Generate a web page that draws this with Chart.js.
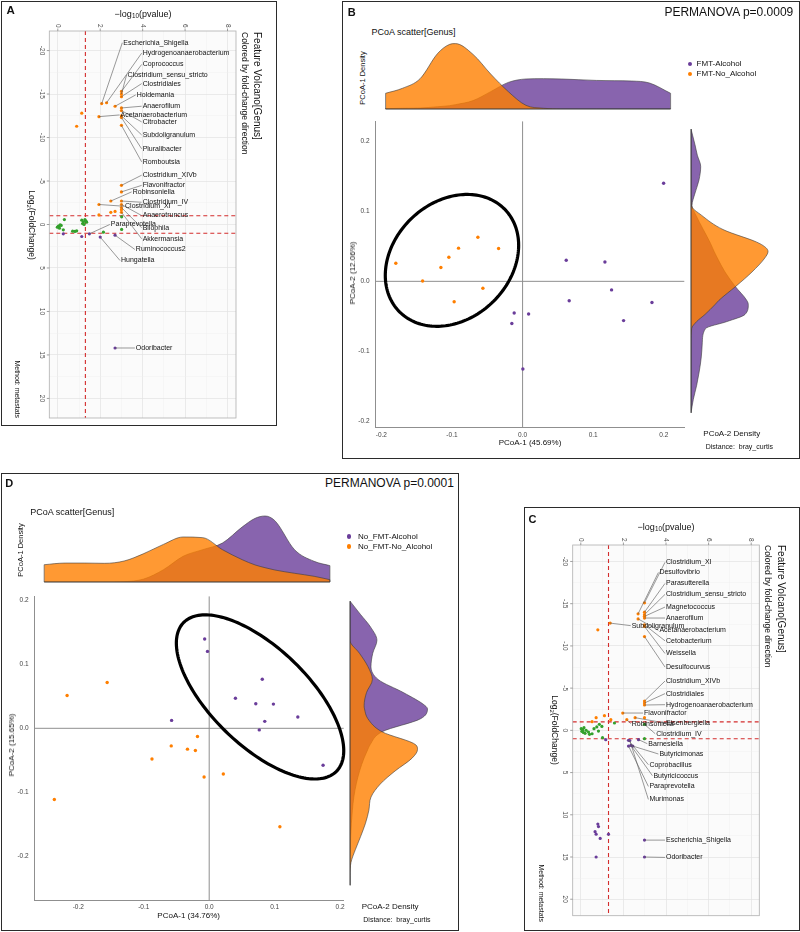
<!DOCTYPE html>
<html>
<head>
<meta charset="utf-8">
<title>Genus-level PCoA and volcano plots</title>
<script src="https://cdn.jsdelivr.net/npm/chart.js@4.4.1/dist/chart.umd.min.js"></script>
<style>
  body { margin: 0; background: #fff; }
  #page { position: relative; width: 800px; height: 932px; overflow: hidden; color: #111;
          font-family: 'Liberation Sans', Arial, Helvetica, sans-serif; }
  .panel { position: absolute; box-sizing: border-box; border: 1.3px solid #2b2b2b; }
  .t { position: absolute; white-space: nowrap; line-height: 1; transform-origin: 0 0; }
  .t sub { font-size: 70%; vertical-align: -0.3em; line-height: 0; }
  .dot { position: absolute; width: 4.5px; height: 4.5px; border-radius: 50%; margin: -2.25px 0 0 -2.25px; }
  canvas { position: absolute; }
</style>
</head>
<body>
<div id="page"></div>
<script>
// ---------- panel A: FMT-Alcohol vs FMT-No_Alcohol volcano ----------
// [ -log10(pvalue), log2(FoldChange), genus ]
const aUp = [
  [2.07, -13.9, 'Escherichia_Shigella'], [2.30, -14.0, 'Hydrogenoanaerobacterium'],
  [3.00, -15.3, 'Coprococcus'], [3.00, -15.0, 'Clostridium_sensu_stricto'],
  [3.00, -14.7, 'Clostridiales'], [2.70, -13.6, 'Holdemania'],
  [3.00, -13.4, 'Anaerofilum'], [1.94, -12.4, 'Acetanaerobacterium'],
  [3.00, -13.1, 'Citrobacter'], [3.00, -12.5, 'Subdoligranulum'],
  [3.00, -12.3, 'Pluralibacter'], [3.00, -11.4, 'Romboutsia'],
  [1.13, -12.8], [0.89, -11.3],
  [3.00, -4.5, 'Clostridium_XIVb'], [3.00, -3.75, 'Flavonifractor'],
  [2.50, -2.7, 'Robinsoniella'], [1.94, -2.3, 'Clostridium_XI'],
  [3.00, -2.7, 'Clostridium_IV'], [3.00, -2.3, 'Anaerotruncus'],
  [3.00, -1.95, 'Bilophila'], [3.00, -1.4, 'Akkermansia'],
  [2.50, -1.4], [2.70, -1.5], [1.94, -1.1], [3.00, -1.7]
];
const aFlat = [
  [0.03, 0.19], [0.08, 0.42], [0.16, 0.11], [-0.02, 0.31], [0.11, 0.04], [0.31, -0.57],
  [0.26, 0.61], [0.70, 0.77], [0.81, 0.80], [0.89, 0.73], [1.13, -0.5], [1.21, -0.31],
  [1.28, -0.57], [1.33, -0.38], [1.17, -0.11], [1.24, 0.0], [1.36, -0.27], [2.15, 0.88],
  [3.01, 0.57], [3.01, -0.88]
];
const aDown = [
  [0.26, 1.07], [1.13, 1.38], [1.49, 1.07, 'Paraprevotella'], [2.00, 1.45, 'Hungatella'],
  [2.70, 1.23, 'Ruminococcus2'], [2.70, 14.2, 'Odoribacter']
];
// where the repelled labels sit, in axis units
const aLabelAt = {
  Escherichia_Shigella: [3.09, -20.9], Hydrogenoanaerobacterium: [4.0, -19.7], Coprococcus: [4.0, -18.4],
  Clostridium_sensu_stricto: [3.29, -17.2], Clostridiales: [4.0, -16.2], Holdemania: [3.72, -14.9],
  Anaerofilum: [4.0, -13.6], Acetanaerobacterium: [2.96, -12.6], Citrobacter: [4.0, -11.8],
  Subdoligranulum: [4.0, -10.3], Pluralibacter: [4.0, -8.7], Romboutsia: [4.0, -7.2],
  Clostridium_XIVb: [4.0, -5.67], Flavonifractor: [4.0, -4.5], Robinsoniella: [3.53, -3.75],
  Clostridium_IV: [4.0, -2.56], Clostridium_XI: [3.17, -2.1], Anaerotruncus: [4.0, -1.03],
  Paraprevotella: [2.5, 0.0], Bilophila: [4.0, 0.38], Akkermansia: [4.0, 1.64],
  Ruminococcus2: [3.68, 2.87], Hungatella: [2.98, 4.14], Odoribacter: [3.68, 14.2]
};

// ---------- panel C: No_FMT-Alcohol vs No_FMT-No_Alcohol volcano ----------
const cUp = [
  [2.99, -15.1, 'Clostridium_XI'], [2.69, -13.8, 'Desulfovibrio'], [2.99, -14.0, 'Parasutterella'],
  [2.99, -13.7, 'Clostridium_sensu_stricto'], [2.99, -13.5, 'Magnetococcus'], [2.99, -13.3, 'Anaerofilum'],
  [1.38, -12.7, 'Subdoligranulum'], [2.69, -13.2, 'Acetanaerobacterium'], [2.99, -12.5, 'Cetobacterium'],
  [2.99, -12.3, 'Weissella'], [2.99, -11.1, 'Desulfocurvus'], [0.80, -11.9],
  [2.99, -3.47, 'Clostridium_XIVb'], [2.99, -3.24, 'Clostridiales'], [2.99, -3.0, 'Hydrogenoanaerobacterium'],
  [1.97, -2.05, 'Flavonifractor'], [2.16, -1.27, 'Robinsoniella'], [2.55, -1.5, 'Eisenbergiella'],
  [2.99, -1.5], [1.11, -1.74], [0.72, -1.5], [0.53, -1.03], [1.41, -1.27]
];
const cFlat = [
  [0.09, -0.08], [0.15, -0.32], [0.25, 0.0], [0.05, 0.12], [0.36, 0.2], [0.41, 0.47], [0.53, 0.4],
  [0.62, -0.2], [0.75, -0.4], [0.83, 0.08], [0.87, -0.71], [0.99, -0.47], [1.02, 0.87], [0.12, 0.25],
  [0.2, 0.35], [0.02, -0.2], [1.58, -0.87], [2.99, -0.71, 'Clostridium_IV'], [2.99, 0.98]
];
const cDown = [
  [1.17, 1.1], [2.24, 1.18, 'Coprobacillus'], [2.24, 1.86, 'Paraprevotella'], [2.35, 1.78, 'Butyricicoccus'],
  [2.44, 1.86, 'Butyricimonas'], [2.71, 1.1, 'Barnesiella'], [2.30, 1.2, 'Murimonas'],
  [0.80, 11.1], [0.83, 11.4], [0.67, 12.0], [0.72, 12.3], [0.91, 12.8], [1.30, 12.3], [0.72, 15.0],
  [2.99, 13.0, 'Escherichia_Shigella'], [2.99, 15.0, 'Odoribacter']
];
const cLabelAt = {
  Clostridium_XI: [4.0, -19.9], Desulfovibrio: [3.69, -18.7], Parasutterella: [4.0, -17.4],
  Clostridium_sensu_stricto: [4.0, -16.1], Magnetococcus: [4.0, -14.6], Anaerofilum: [4.0, -13.3],
  Subdoligranulum: [2.39, -12.4], Acetanaerobacterium: [3.69, -11.85], Cetobacterium: [4.0, -10.6],
  Weissella: [4.0, -9.1], Desulfocurvus: [4.0, -7.5], Clostridium_XIVb: [4.0, -5.84],
  Clostridiales: [4.0, -4.35], Hydrogenoanaerobacterium: [4.0, -3.04], Flavonifractor: [2.97, -2.05],
  Robinsoniella: [2.39, -0.79], Eisenbergiella: [4.0, -0.87], Clostridium_IV: [3.54, 0.4],
  Barnesiella: [3.17, 1.58], Butyricimonas: [3.69, 2.8], Coprobacillus: [3.22, 4.07],
  Butyricicoccus: [3.41, 5.37], Paraprevotella: [3.22, 6.64], Murimonas: [3.22, 8.18],
  Escherichia_Shigella: [4.0, 13.0], Odoribacter: [4.0, 15.05]
};

const pTicks = [0, 2, 4, 6, 8];
const pMinor = [1, 3, 5, 7];
const fcTicks = [-20, -15, -10, -5, 0, 5, 10, 15, 20];
const fcMinor = [-17.5, -12.5, -7.5, -2.5, 2.5, 7.5, 12.5, 17.5];
const pCut = -Math.log10(0.05);
const fcCut = [-1, 1];

// ---------- panel B: PCoA, FMT groups ----------
// [PCoA-1, PCoA-2]
const bAlcohol = [
  [0.0618, 0.0301], [0.1166, 0.0277], [0.126, -0.0123], [0.066, -0.0279], [0.1832, -0.0302],
  [0.143, -0.0562], [0.1997, 0.1405], [-0.0119, -0.0453], [0.0085, -0.0467], [-0.0152, -0.0604],
  [0.0004, -0.1255]
];
const bNoAlcohol = [
  [-0.1795, 0.0259], [-0.1416, 0.0004], [-0.1157, 0.0198], [-0.1044, 0.0344], [-0.0907, 0.0475],
  [-0.0633, 0.0631], [-0.034, 0.0471], [-0.0562, -0.0099], [-0.0969, -0.0293]
];
const bTopAt = [-0.194, -0.17, -0.145, -0.12, -0.103, -0.095, -0.07, -0.045, -0.02, 0.005, 0.03,
                0.055, 0.08, 0.105, 0.13, 0.155, 0.18, 0.21];
const bTopNoAlc = [2.38, 3.14, 4.6, 8.44, 9.8, 9.91, 8.27, 5.3, 2.63, 0.55, 0.11, 0, 0, 0, 0, 0, 0, 0];
const bTopAlc = [0.05, 0.11, 0.15, 0.35, 0.51, 0.66, 1.27, 2.63, 4.03, 4.55, 4.6, 4.55, 4.44, 4.33, 4.29, 4.24, 3.94, 2.38];
const bSideAt = [-0.189, -0.17, -0.15, -0.13, -0.11, -0.09, -0.07, -0.06, -0.05, -0.036, -0.03, -0.01,
                 0.01, 0.03, 0.039, 0.05, 0.07, 0.09, 0.104, 0.12, 0.14, 0.159, 0.175, 0.19, 0.212];
const bSideAlc = [0, 0.35, 0.86, 1.26, 1.56, 1.71, 2.2, 5.45, 8.18, 8.68, 8.44, 6.67,
                  5.15, 3.98, 3.5, 2.98, 1.86, 0.76, 0.15, 0.56, 1.21, 1.47, 0.96, 0.6, 0];
const bSideNoAlc = [0, 0, 0, 0, 0, 0, 0.1, 0.86, 2.12, 3.64, 4.24, 6.82,
                    9.24, 11.2, 11.67, 10.45, 4.85, 1.62, 0.05, 0, 0, 0, 0, 0, 0];
const bEllipse = { cx: -0.100, cy: 0.030, a: 0.1046, b: 0.083, angle: 45 };

// ---------- panel D: PCoA, No_FMT groups ----------
const dAlcohol = [
  [-0.0069, 0.1392], [-0.0026, 0.1198], [0.0811, 0.0765], [0.0401, 0.0469], [0.0712, 0.0383],
  [0.0981, 0.0377], [0.1354, 0.0175], [0.0849, 0.0108], [0.0765, -0.0025], [-0.0574, 0.0123],
  [0.174, -0.0575]
];
const dNoAlcohol = [
  [-0.2171, 0.051], [-0.1559, 0.0714], [-0.0179, -0.0127], [-0.058, -0.0274], [-0.0332, -0.0325],
  [-0.0211, -0.0346], [-0.0874, -0.0478], [0.0216, -0.0713], [-0.0078, -0.0759], [-0.2366, -0.111],
  [0.108, -0.1533]
];
const dTopAt = [-0.252, -0.22, -0.19, -0.16, -0.13, -0.10, -0.07, -0.04, -0.01, 0.02, 0.05, 0.07,
                0.085, 0.10, 0.13, 0.16, 0.184];
const dTopNoAlc = [2.62, 2.87, 2.87, 2.83, 3.18, 4.3, 5.7, 6.82, 6.72, 4.9, 3.39, 2.58, 2.17, 1.82, 1.32, 0.86, 0.35];
const dTopAlc = [0, 0, 0, 0, 0.05, 0.45, 1.86, 3.89, 4.9, 5.9, 8.32, 9.65, 10.0, 9.29, 4.9, 3.13, 2.48];
const dSideAt = [-0.245, -0.23, -0.21, -0.19, -0.17, -0.15, -0.13, -0.11, -0.09, -0.07, -0.05, -0.037,
                 -0.03, -0.01, 0.01, 0.025, 0.03, 0.05, 0.07, 0.09, 0.11, 0.13, 0.15, 0.17, 0.19];
const dSideAlc = [0, 0, 0, 0.05, 0.11, 0.21, 0.36, 0.58, 0.94, 1.45, 2.14, 2.7,
                  3.03, 4.85, 10.7, 11.74, 11.38, 8.09, 4.27, 3.18, 3.44, 4.08, 3.14, 1.56, 0];
const dSideNoAlc = [0, 0, 0.15, 0.83, 1.62, 2.35, 2.86, 3.18, 4.59, 6.83, 9.44, 10.23,
                    9.97, 4.85, 2.71, 2.2, 2.14, 2.5, 3.39, 2.71, 1.45, 0, 0, 0, 0];
const dEllipse = { cx: 0.0777, cy: 0.0489, a: 0.1645, b: 0.0751, angle: -45 };

const pcoaTicks = [-0.2, -0.1, 0, 0.1, 0.2];

// ---------- look ----------
const FONT = "'Liberation Sans', Arial, Helvetica, sans-serif";
const ORANGE = '#FF7F00', PURPLE = '#6A3D9A', GREEN = '#33A02C';
const ORANGE_FILL = 'rgba(255,127,0,0.8)', PURPLE_FILL = 'rgba(106,61,154,0.8)';
const EDGE = '#3a3a3a';
const DENS_PX = 6.6;

Chart.defaults.font.family = FONT;
Chart.defaults.animation = false;
Chart.defaults.responsive = false;
Chart.defaults.devicePixelRatio = 1;
Chart.defaults.plugins.legend.display = false;
Chart.defaults.plugins.tooltip.enabled = false;

const page = document.getElementById('page');

function canvasAt(r) {
  const c = document.createElement('canvas');
  c.width = r.w; c.height = r.h;
  c.style.left = r.x + 'px'; c.style.top = r.y + 'px';
  page.appendChild(c);
  return c;
}

function box(x, y, w, h) {
  const d = document.createElement('div');
  d.className = 'panel';
  Object.assign(d.style, { left: x + 'px', top: y + 'px', width: w + 'px', height: h + 'px' });
  page.appendChild(d);
}

function label(x, y, html, o = {}) {
  const d = document.createElement('div');
  d.className = 't';
  d.innerHTML = html;
  d.style.left = x + 'px';
  d.style.top = y + 'px';
  d.style.fontSize = (o.size || 9) + 'px';
  if (o.bold) d.style.fontWeight = 'bold';
  const ax = { left: '0', center: '-50%', right: '-100%' }[o.align || 'left'];
  d.style.transform = `rotate(${o.rot || 0}deg) translate(${ax}, -50%)`;
  page.appendChild(d);
}

function legend(x, tx, ys, names) {
  [PURPLE, ORANGE].forEach((col, i) => {
    const d = document.createElement('div');
    d.className = 'dot';
    Object.assign(d.style, { left: x + 'px', top: ys[i] + 'px', background: col });
    page.appendChild(d);
    label(tx, ys[i], names[i], { size: 8 });
  });
}

function seg(ctx, x1, y1, x2, y2) {
  ctx.beginPath(); ctx.moveTo(x1, y1); ctx.lineTo(x2, y2); ctx.stroke();
}

const pts = arr => arr.map(p => ({ x: p[0], y: p[1], name: p[2] }));
const pad = (b, p) => ({ left: p.x - b.x, top: p.y - b.y,
                         right: b.x + b.w - p.x - p.w, bottom: b.y + b.h - p.y - p.h });
const setTicks = vals => s => { s.ticks = vals.map(v => ({ value: v })); };

// ---------- volcano ----------
function volcanoDeco(spots) {
  return {
    id: 'volcanoDeco',
    beforeDraw(chart) {
      const { ctx, chartArea: a } = chart;
      ctx.save(); ctx.fillStyle = '#fbfbfb';
      ctx.fillRect(a.left, a.top, a.width, a.height); ctx.restore();
    },
    beforeDatasetsDraw(chart) {
      const { ctx, chartArea: a, scales: { x, y } } = chart;
      ctx.save();
      ctx.strokeStyle = '#d42d2d'; ctx.lineWidth = 1.1; ctx.setLineDash([4, 3]);
      const vx = x.getPixelForValue(pCut);
      seg(ctx, vx, a.top, vx, a.bottom);
      fcCut.forEach(v => { const py = y.getPixelForValue(v); seg(ctx, a.left, py, a.right, py); });
      ctx.restore();
    },
    afterDatasetsDraw(chart) {
      const { ctx, scales: { x, y } } = chart;
      const named = [];
      chart.data.datasets.forEach(ds => ds.data.forEach(p => { if (p.name) named.push(p); }));
      ctx.save();
      ctx.strokeStyle = '#555'; ctx.lineWidth = 0.6;
      named.forEach(p => {
        const s = spots[p.name];
        seg(ctx, x.getPixelForValue(p.x), y.getPixelForValue(p.y),
            x.getPixelForValue(s[0]) - 1, y.getPixelForValue(s[1]));
      });
      ctx.font = '7px ' + FONT; ctx.fillStyle = '#111'; ctx.textBaseline = 'middle';
      named.forEach(p => {
        const s = spots[p.name];
        ctx.fillText(p.name, x.getPixelForValue(s[0]), y.getPixelForValue(s[1]));
      });
      ctx.restore();
    },
    afterDraw(chart) {
      const { ctx, chartArea: a, scales: { x, y } } = chart;
      ctx.save();
      ctx.strokeStyle = '#b0b0b0'; ctx.lineWidth = 0.8;
      ctx.strokeRect(a.left, a.top, a.width, a.height);
      ctx.strokeStyle = '#888';
      ctx.fillStyle = '#4d4d4d'; ctx.font = '6.5px ' + FONT;
      pTicks.forEach(v => {
        const px = x.getPixelForValue(v);
        seg(ctx, px, a.top - 2.5, px, a.top);
        ctx.save(); ctx.translate(px, a.top - 3.5); ctx.rotate(Math.PI / 2);
        ctx.textAlign = 'right'; ctx.textBaseline = 'middle'; ctx.fillText(String(v), 0, 0);
        ctx.restore();
      });
      fcTicks.forEach(v => {
        const py = y.getPixelForValue(v);
        seg(ctx, a.left - 2.5, py, a.left, py);
        ctx.save(); ctx.translate(a.left - 7.5, py); ctx.rotate(Math.PI / 2);
        ctx.textAlign = 'center'; ctx.textBaseline = 'middle'; ctx.fillText(String(v), 0, 0);
        ctx.restore();
      });
      ctx.restore();
    }
  };
}

function volcano(b, p, xr, yr, up, flat, down, spots) {
  const grid = majors => ({
    drawTicks: false,
    color: c => (c.tick && majors.includes(c.tick.value)) ? '#e3e3e3' : '#f0f0f0',
    lineWidth: c => (c.tick && majors.includes(c.tick.value)) ? 0.7 : 0.45
  });
  new Chart(canvasAt(b), {
    type: 'scatter',
    data: { datasets: [
      { data: pts(up), backgroundColor: ORANGE },
      { data: pts(flat), backgroundColor: GREEN },
      { data: pts(down), backgroundColor: PURPLE }
    ] },
    options: {
      layout: { padding: pad(b, p) },
      elements: { point: { radius: 1.6, hoverRadius: 1.6, borderWidth: 0 } },
      scales: {
        x: { type: 'linear', position: 'top', min: xr[0], max: xr[1],
             afterBuildTicks: setTicks(pTicks.concat(pMinor)), afterFit: s => { s.height = 0; },
             ticks: { display: false }, grid: grid(pTicks), border: { display: false } },
        y: { type: 'linear', reverse: true, min: yr[0], max: yr[1],
             afterBuildTicks: setTicks(fcTicks.concat(fcMinor)), afterFit: s => { s.width = 0; },
             ticks: { display: false }, grid: grid(fcTicks), border: { display: false } }
      }
    },
    plugins: [volcanoDeco(spots)]
  });
}

// ---------- PCoA scatter ----------
function pcoaDeco(ell) {
  return {
    id: 'pcoaDeco',
    beforeDatasetsDraw(chart) {
      const { ctx, chartArea: a, scales: { x, y } } = chart;
      ctx.save(); ctx.strokeStyle = '#8f8f8f'; ctx.lineWidth = 1;
      const x0 = x.getPixelForValue(0), y0 = y.getPixelForValue(0);
      seg(ctx, x0, a.top, x0, a.bottom);
      seg(ctx, a.left, y0, a.right, y0);
      ctx.restore();
    },
    afterDatasetsDraw(chart) {
      const { ctx, scales: { x, y } } = chart;
      const th = ell.angle * Math.PI / 180;
      ctx.save(); ctx.strokeStyle = '#000'; ctx.lineWidth = 3.2; ctx.beginPath();
      for (let i = 0; i <= 180; i++) {
        const t = i / 180 * 2 * Math.PI;
        const dx = ell.a * Math.cos(t) * Math.cos(th) - ell.b * Math.sin(t) * Math.sin(th);
        const dy = ell.a * Math.cos(t) * Math.sin(th) + ell.b * Math.sin(t) * Math.cos(th);
        const px = x.getPixelForValue(ell.cx + dx), py = y.getPixelForValue(ell.cy + dy);
        if (i) ctx.lineTo(px, py); else ctx.moveTo(px, py);
      }
      ctx.closePath(); ctx.stroke(); ctx.restore();
    }
  };
}

function pcoa(b, p, range, alc, noAlc, ell) {
  const axis = isX => ({
    type: 'linear', min: range[0], max: range[1],
    afterBuildTicks: setTicks(pcoaTicks),
    afterFit: isX ? s => { s.height = b.y + b.h - p.y - p.h; } : s => { s.width = p.x - b.x; },
    grid: { display: false, drawTicks: false },
    border: { display: true, color: '#8f8f8f', width: 1 },
    ticks: { font: { size: 6.5 }, color: '#444', padding: isX ? 3.7 : 5.5,
             autoSkip: false, maxRotation: 0, callback: v => v.toFixed(1) }
  });
  const padding = pad(b, p);
  padding.left = 0; padding.bottom = 0;
  new Chart(canvasAt(b), {
    type: 'scatter',
    data: { datasets: [
      { data: pts(noAlc), backgroundColor: ORANGE },
      { data: pts(alc), backgroundColor: PURPLE }
    ] },
    options: {
      layout: { padding },
      elements: { point: { radius: 1.7, hoverRadius: 1.7, borderWidth: 0 } },
      scales: { x: axis(true), y: axis(false) }
    },
    plugins: [pcoaDeco(ell)]
  });
}

// ---------- marginal densities ----------
const densityEdges = {
  id: 'densityEdges',
  afterDatasetsDraw(chart) {
    const { ctx } = chart;
    const horiz = chart.options.indexAxis !== 'y';
    const base = (horiz ? chart.scales.y : chart.scales.x).getPixelForValue(0);
    ctx.save(); ctx.strokeStyle = EDGE; ctx.lineWidth = 0.6;
    chart.data.datasets.forEach((ds, i) => {
      const el = chart.getDatasetMeta(i).data;
      const a = el[0], z = el[el.length - 1];
      ctx.beginPath(); ctx.moveTo(a.x, a.y);
      if (horiz) { ctx.lineTo(a.x, base); ctx.lineTo(z.x, base); }
      else { ctx.lineTo(base, a.y); ctx.lineTo(base, z.y); }
      ctx.lineTo(z.x, z.y); ctx.stroke();
    });
    ctx.restore();
  }
};

function curve(at, vals, fill, horiz) {
  return {
    data: at.map((v, i) => horiz ? { x: v, y: vals[i] } : { x: vals[i], y: v }),
    fill: 'origin', backgroundColor: fill, borderColor: EDGE, borderWidth: 0.6,
    pointRadius: 0, cubicInterpolationMode: 'monotone'
  };
}

function topDensity(b, xr, at, noAlc, alc) {
  new Chart(canvasAt(b), {
    type: 'line',
    data: { datasets: [curve(at, noAlc, ORANGE_FILL, true), curve(at, alc, PURPLE_FILL, true)] },
    options: {
      layout: { padding: { bottom: 1 } },
      scales: { x: { type: 'linear', display: false, min: xr[0], max: xr[1] },
                y: { type: 'linear', display: false, min: 0, max: (b.h - 1) / DENS_PX } }
    },
    plugins: [densityEdges]
  });
}

function sideDensity(b, yr, at, noAlc, alc) {
  new Chart(canvasAt(b), {
    type: 'line',
    data: { datasets: [curve(at, noAlc, ORANGE_FILL, false), curve(at, alc, PURPLE_FILL, false)] },
    options: {
      indexAxis: 'y',
      layout: { padding: { left: 1 } },
      scales: { x: { type: 'linear', display: false, min: 0, max: (b.w - 1) / DENS_PX },
                y: { type: 'linear', display: false, min: yr[0], max: yr[1] } }
    },
    plugins: [densityEdges]
  });
}

// ---------- panel frames ----------
box(1, 1, 276, 425);
box(341.5, 1, 458, 458);
box(1, 472.7, 457.7, 458);
box(524, 507, 276, 424);

// ---------- A ----------
volcano({ x: 1, y: 1, w: 276, h: 425 }, { x: 49.3, y: 31, w: 186.7, h: 387 },
        [-0.4, 8.4], [-22.25, 22.25], aUp, aFlat, aDown, aLabelAt);
label(6.5, 11, 'A', { size: 11.5, bold: true });
label(143, 14, '&minus;log<sub>10</sub>(pvalue)', { size: 9, align: 'center' });
label(257, 31.5, 'Feature Volcano[Genus]', { size: 10, rot: 90 });
label(245, 31.5, 'Colored by fold-change direction', { size: 8.5, rot: 90 });
label(31.7, 225, 'Log<sub>2</sub>(FoldChange)', { size: 8.5, rot: 90, align: 'center' });
label(17, 418, 'Method: metastats', { size: 7, rot: 90, align: 'right' });

// ---------- B ----------
const bRange = [-0.209, 0.229];
topDensity({ x: 375, y: 39, w: 309, h: 71 }, bRange, bTopAt, bTopNoAlc, bTopAlc);
pcoa({ x: 341, y: 112, w: 350, h: 340 }, { x: 375, y: 117.3, w: 309.3, h: 310 },
     bRange, bAlcohol, bNoAlcohol, bEllipse);
sideDensity({ x: 690, y: 117, w: 100, h: 310 }, bRange, bSideAt, bSideNoAlc, bSideAlc);
label(347.8, 11.7, 'B', { size: 11, bold: true });
label(793.3, 11.7, 'PERMANOVA p=0.0009', { size: 12, align: 'right' });
label(371.4, 32.3, 'PCoA scatter[Genus]', { size: 9 });
label(363, 78.3, 'PCoA-1 Density', { size: 7.5, rot: -90, align: 'center' });
legend(689.9, 696.6, [64, 74], ['FMT-Alcohol', 'FMT-No_Alcohol']);
label(353.3, 273.3, 'PCoA-2 (12.06%)', { size: 8, rot: -90, align: 'center' });
label(530, 442.7, 'PCoA-1 (45.69%)', { size: 8, align: 'center' });
label(703.3, 434.3, 'PCoA-2 Density', { size: 8 });
label(705.7, 445.7, 'Distance:&nbsp; bray_curtis', { size: 7 });

// ---------- D ----------
const dRange = [-0.2675, 0.2055];
topDensity({ x: 34, y: 506, w: 310, h: 77 }, dRange, dTopAt, dTopNoAlc, dTopAlc);
pcoa({ x: 2, y: 587, w: 348, h: 344 }, { x: 34.1, y: 590.7, w: 309.6, h: 309.3 },
     dRange, dAlcohol, dNoAlcohol, dEllipse);
sideDensity({ x: 349, y: 591, w: 100, h: 309 }, dRange, dSideAt, dSideNoAlc, dSideAlc);
label(5.2, 483.3, 'D', { size: 11, bold: true });
label(453.9, 483.3, 'PERMANOVA p=0.0001', { size: 12, align: 'right' });
label(30.3, 511.7, 'PCoA scatter[Genus]', { size: 9 });
label(20.7, 550, 'PCoA-1 Density', { size: 7.5, rot: -90, align: 'center' });
legend(348.8, 358.1, [536.7, 546.7], ['No_FMT-Alcohol', 'No_FMT-No_Alcohol']);
label(12, 745, 'PCoA-2 (15.65%)', { size: 8, rot: -90, align: 'center' });
label(188.7, 916, 'PCoA-1 (34.76%)', { size: 8, align: 'center' });
label(361.7, 907.3, 'PCoA-2 Density', { size: 8 });
label(363.3, 919, 'Distance:&nbsp; bray_curtis', { size: 7 });

// ---------- C ----------
volcano({ x: 524, y: 507, w: 273, h: 424 }, { x: 572.7, y: 545, w: 186.6, h: 370.7 },
        [-0.38, 8.38], [-21.95, 21.95], cUp, cFlat, cDown, cLabelAt);
label(528.6, 518.5, 'C', { size: 11, bold: true });
label(666, 527.3, '&minus;log<sub>10</sub>(pvalue)', { size: 9, align: 'center' });
label(780.7, 545, 'Feature Volcano[Genus]', { size: 10, rot: 90 });
label(768.3, 545, 'Colored by fold-change direction', { size: 8.5, rot: 90 });
label(555, 730, 'Log<sub>2</sub>(FoldChange)', { size: 8.5, rot: 90, align: 'center' });
label(540.7, 922, 'Method: metastats', { size: 7, rot: 90, align: 'right' });
</script>
</body>
</html>
